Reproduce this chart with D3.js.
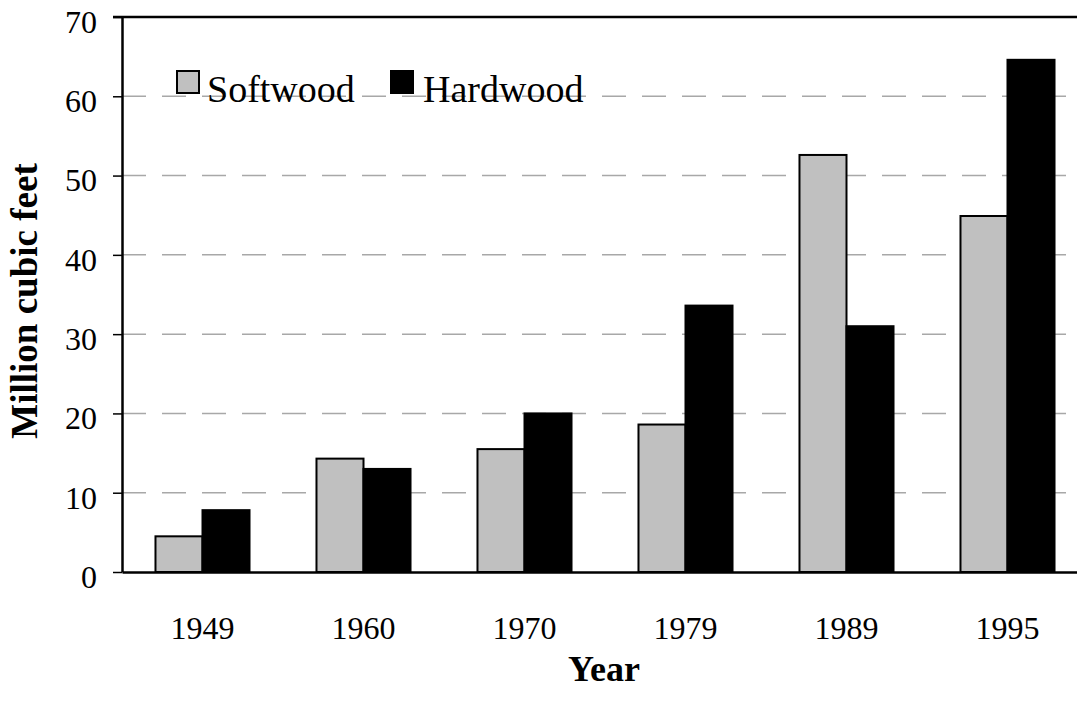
<!DOCTYPE html>
<html>
<head>
<meta charset="utf-8">
<script src="https://cdn.jsdelivr.net/npm/d3@7"></script>
<style>
  html, body { margin: 0; padding: 0; background: #fff; }
  svg { display: block; }
</style>
</head>
<body>
<svg id="chart" width="1077" height="711"></svg>
<script>
const years = ["1949", "1960", "1970", "1979", "1989", "1995"];
const seriesNames = ["Softwood", "Hardwood"];
const softwood = [4.5, 14.3, 15.5, 18.6, 52.6, 44.9];
const hardwood = [7.8, 13.0, 20.0, 33.6, 31.0, 64.6];
const yTicks = [0, 10, 20, 30, 40, 50, 60, 70];
const colors = ["#c0c0c0", "#000000"];

const font = "'Liberation Serif', 'Times New Roman', Times, serif";
const svg = d3.select("#chart");

const plotL = 122, plotR = 1088, plotT = 17, plotB = 572;

const x0 = d3.scaleBand().domain(years).range([plotL, plotR])
  .paddingInner(0.416).paddingOuter(0.208);
const x1 = d3.scaleBand().domain(seriesNames).range([0, x0.bandwidth()]);
const y = d3.scaleLinear().domain([0, 70]).range([plotB, plotT]);

// gridlines
svg.append("g").selectAll("line")
  .data(yTicks.filter(d => d > 0 && d < 70))
  .join("line")
  .attr("x1", plotL).attr("x2", plotR)
  .attr("y1", d => y(d)).attr("y2", d => y(d))
  .attr("stroke", "#a8a8a8").attr("stroke-width", 1.5)
  .attr("stroke-dasharray", "24,16");

// bars
const data = years.map((yr, i) => ({ year: yr, values: [softwood[i], hardwood[i]] }));
const groups = svg.append("g").selectAll("g")
  .data(data).join("g")
  .attr("transform", d => `translate(${x0(d.year)},0)`);
groups.selectAll("rect")
  .data(d => d.values.map((v, k) => ({ key: seriesNames[k], value: v, k })))
  .join("rect")
  .attr("x", d => x1(d.key))
  .attr("width", x1.bandwidth())
  .attr("y", d => y(d.value))
  .attr("height", d => y(0) - y(d.value))
  .attr("fill", d => colors[d.k])
  .attr("stroke", "#000")
  .attr("stroke-width", 2);

// y axis
const yAxis = svg.append("g")
  .attr("transform", `translate(${plotL},0)`)
  .call(d3.axisLeft(y).tickValues(yTicks).tickSize(9).tickPadding(16).tickSizeOuter(0));
yAxis.select(".domain").attr("stroke", "#000").attr("stroke-width", 2.5);
yAxis.selectAll(".tick line").attr("stroke", "#000").attr("stroke-width", 1.5);
yAxis.selectAll("text").attr("font-family", font).attr("font-size", 32)
  .attr("fill", "#000").attr("dy", "0.48em");

// x axis
const xAxis = svg.append("g")
  .attr("transform", `translate(0,${plotB})`)
  .call(d3.axisBottom(x0).tickSize(0).tickPadding(44).tickSizeOuter(0));
xAxis.select(".domain").attr("stroke", "#000").attr("stroke-width", 2.5);
xAxis.selectAll("text").attr("font-family", font).attr("font-size", 32).attr("fill", "#000");

// top border
svg.append("line")
  .attr("x1", plotL - 9).attr("x2", plotR)
  .attr("y1", plotT).attr("y2", plotT)
  .attr("stroke", "#000").attr("stroke-width", 2.5);

// legend
const legendPos = [{ bx: 177, tx: 207 }, { bx: 391, tx: 423 }];
const legend = svg.append("g").selectAll("g").data(seriesNames).join("g");
legend.append("rect")
  .attr("x", (d, i) => legendPos[i].bx).attr("y", 71)
  .attr("width", 22).attr("height", 22)
  .attr("fill", (d, i) => colors[i])
  .attr("stroke", "#000").attr("stroke-width", 2);
legend.append("text")
  .attr("x", (d, i) => legendPos[i].tx).attr("y", 102)
  .attr("font-family", font).attr("font-size", 38)
  .text(d => d);

// axis titles
svg.append("text")
  .attr("transform", "translate(37,301) rotate(-90)")
  .attr("text-anchor", "middle")
  .attr("font-family", font).attr("font-size", 37).attr("font-weight", "bold")
  .text("Million cubic feet");
svg.append("text")
  .attr("x", 604).attr("y", 681)
  .attr("text-anchor", "middle")
  .attr("font-family", font).attr("font-size", 36).attr("font-weight", "bold")
  .text("Year");
</script>
</body>
</html>
